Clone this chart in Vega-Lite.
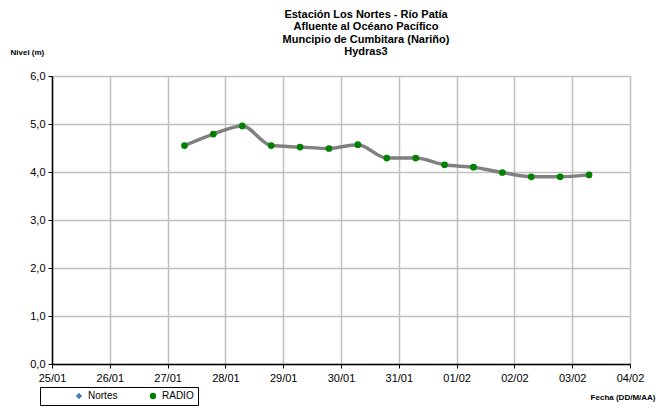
{
  "$schema": "https://vega.github.io/schema/vega-lite/v6.json",
  "width": 578,
  "height": 288,
  "autosize": "none",
  "padding": {"left": 52, "top": 76, "right": 35, "bottom": 47},
  "background": "white",
  "title": {
    "text": ["Estación Los Nortes  - Río Patía", "Afluente al Océano Pacífico", "Muncipio de Cumbitara (Nariño)", "Hydras3"],
    "font": "Liberation Sans",
    "fontSize": 11,
    "fontWeight": "bold",
    "color": "black",
    "lineHeight": 12.5,
    "anchor": "middle",
    "dx": 25,
    "offset": -9
  },
  "data": {
    "values": [
      {"fecha": "2013-01-27T07:00:00Z", "nivel": 4.55, "serie": "RADIO"},
      {"fecha": "2013-01-27T19:00:00Z", "nivel": 4.79, "serie": "RADIO"},
      {"fecha": "2013-01-28T07:00:00Z", "nivel": 4.96, "serie": "RADIO"},
      {"fecha": "2013-01-28T19:00:00Z", "nivel": 4.55, "serie": "RADIO"},
      {"fecha": "2013-01-29T07:00:00Z", "nivel": 4.52, "serie": "RADIO"},
      {"fecha": "2013-01-29T19:00:00Z", "nivel": 4.49, "serie": "RADIO"},
      {"fecha": "2013-01-30T07:00:00Z", "nivel": 4.57, "serie": "RADIO"},
      {"fecha": "2013-01-30T19:00:00Z", "nivel": 4.29, "serie": "RADIO"},
      {"fecha": "2013-01-31T07:00:00Z", "nivel": 4.29, "serie": "RADIO"},
      {"fecha": "2013-01-31T19:00:00Z", "nivel": 4.15, "serie": "RADIO"},
      {"fecha": "2013-02-01T07:00:00Z", "nivel": 4.10, "serie": "RADIO"},
      {"fecha": "2013-02-01T19:00:00Z", "nivel": 3.99, "serie": "RADIO"},
      {"fecha": "2013-02-02T07:00:00Z", "nivel": 3.90, "serie": "RADIO"},
      {"fecha": "2013-02-02T19:00:00Z", "nivel": 3.90, "serie": "RADIO"},
      {"fecha": "2013-02-03T07:00:00Z", "nivel": 3.94, "serie": "RADIO"}
    ]
  },
  "encoding": {
    "x": {
      "field": "fecha",
      "type": "temporal",
      "scale": {"type": "utc", "domain": ["2013-01-25T00:00:00Z", "2013-02-04T00:00:00Z"], "nice": false},
      "axis": {
        "title": "Fecha (DD/M/AA)",
        "titleX": 603,
        "titleY": 33,
        "titleAlign": "right",
        "titleBaseline": "middle",
        "titleFontSize": 8,
        "titleFontWeight": "bold",
        "labelExpr": "utcFormat(datum.value, '%d/%m')",
        "tickCount": {"interval": "day", "step": 1},
        "labelFlush": false,
        "labelOverlap": false,
        "labelPadding": 4
      }
    },
    "y": {
      "field": "nivel",
      "type": "quantitative",
      "scale": {"domain": [0, 6], "nice": false, "zero": true},
      "axis": {
        "title": "Nivel (m)",
        "titleAngle": 0,
        "titleX": -42,
        "titleY": -24,
        "titleAlign": "left",
        "titleBaseline": "middle",
        "titleFontSize": 8,
        "titleFontWeight": "bold",
        "values": [0, 1, 2, 3, 4, 5, 6],
        "labelExpr": "replace(format(datum.value, '.1f'), '.', ',')",
        "labelPadding": 3
      }
    }
  },
  "layer": [
    {
      "mark": {"type": "line", "interpolate": "monotone", "color": "#808080", "strokeWidth": 3.5}
    },
    {
      "mark": {"type": "point", "filled": true, "size": 45, "opacity": 1},
      "encoding": {
        "color": {
          "field": "serie",
          "type": "nominal",
          "scale": {"domain": ["Nortes", "RADIO"], "range": ["#4a7ebb", "#008000"]},
          "legend": {
            "title": null,
            "orient": "none",
            "legendX": -12,
            "legendY": 311,
            "direction": "horizontal",
            "strokeColor": "black",
            "fillColor": "white",
            "padding": 4,
            "symbolOffset": 30,
            "columnPadding": 0,
            "symbolSize": 40,
            "labelFontSize": 10,
            "labelFont": "Liberation Sans",
            "labelColor": "black",
            "offset": 0
          }
        },
        "shape": {
          "field": "serie",
          "type": "nominal",
          "scale": {"domain": ["Nortes", "RADIO"], "range": ["diamond", "circle"]}
        }
      }
    }
  ],
  "config": {
    "font": "Liberation Sans",
    "view": {"stroke": null},
    "axis": {
      "labelFont": "Liberation Sans",
      "labelFontSize": 11,
      "labelColor": "black",
      "titleFont": "Liberation Sans",
      "titleColor": "black",
      "domainColor": "black",
      "domainWidth": 1.5,
      "tickColor": "black",
      "tickSize": 4,
      "gridColor": "#c0c0c0",
      "gridWidth": 1.5
    }
  }
}
